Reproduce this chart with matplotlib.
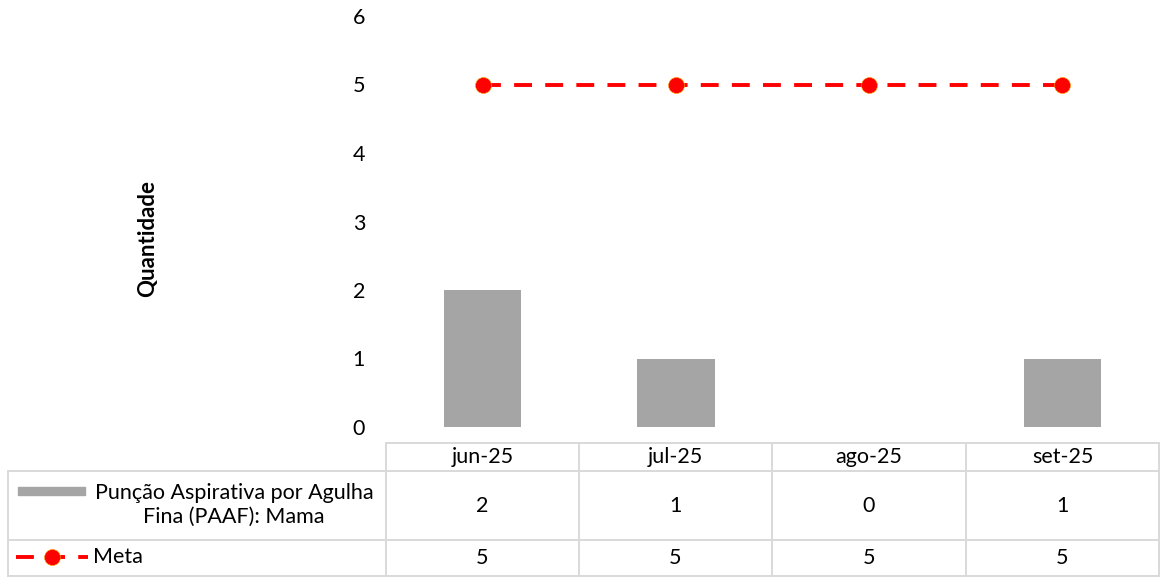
import matplotlib
matplotlib.use("Agg")
import matplotlib.pyplot as plt
from matplotlib.lines import Line2D
from matplotlib.patches import Rectangle

categories = ["jun-25", "jul-25", "ago-25", "set-25"]
paaf = [2, 1, 0, 1]
meta = [5, 5, 5, 5]
series_bar = "Punção Aspirativa por Agulha\nFina (PAAF): Mama"
series_line = "Meta"
y_ticks = [0, 1, 2, 3, 4, 5, 6]

plt.rcParams['font.family'] = ['Lato', 'DejaVu Sans']
FS = 15.5

W, H = 1160, 577
fig = plt.figure(figsize=(W / 100, H / 100), dpi=100)

def fx(px):
    return px / W

def fy(py):
    return 1 - py / H

x0, x1 = 386, 1159
y0, y1 = 427, 16
ax = fig.add_axes([fx(x0), fy(y0), fx(x1) - fx(x0), fy(y1) - fy(y0)])
x = list(range(len(categories)))
ax.bar(x, paaf, width=0.4, color="#A5A5A5", zorder=2)
LS = (0, (4.6, 3.4))
ax.plot(x, meta, color="#FF0000", lw=2.8, ls=LS, marker="o",
        markersize=11.5, markerfacecolor="#FF0000", markeredgecolor="#FFA500",
        markeredgewidth=0.4, zorder=3)
ax.set_xlim(-0.5, len(categories) - 0.5)
ax.set_ylim(0, 6)
ax.set_yticks(y_ticks)
ax.set_yticklabels([str(t) for t in y_ticks], fontsize=FS)
ax.tick_params(axis='y', length=0, pad=15)
ax.set_xticks([])
for s in ax.spines.values():
    s.set_visible(False)

fig.text(fx(148), fy(238), "Quantidade", rotation=90, ha="center", va="center",
         fontsize=16, fontweight="bold")

# data table
gc = "#D9D9D9"
lw = 1.4
col_edges = [386, 579, 772, 966, 1159]
row_top, row_h, row1, row2 = 443, 471, 540, 576

def hline(y, xa, xb):
    fig.add_artist(Line2D([fx(xa), fx(xb)], [fy(y), fy(y)], color=gc, lw=lw))

def vline(x_, ya, yb):
    fig.add_artist(Line2D([fx(x_), fx(x_)], [fy(ya), fy(yb)], color=gc, lw=lw))

hline(row_top, 386, 1159)
hline(row_h, 8, 1159)
hline(row1, 8, 1159)
hline(row2, 8, 1159)
for ce in col_edges:
    vline(ce, row_top, row2)
vline(8, row_h, row2)

for i, c in enumerate(categories):
    cx = (col_edges[i] + col_edges[i + 1]) / 2
    fig.text(fx(cx), fy((row_top + row_h) / 2), c, ha="center", va="center", fontsize=FS)
    fig.text(fx(cx), fy((row_h + row1) / 2), str(paaf[i]), ha="center", va="center", fontsize=FS)
    fig.text(fx(cx), fy((row1 + row2) / 2), str(meta[i]), ha="center", va="center", fontsize=FS)

# legend keys
fig.add_artist(Rectangle((fx(18), fy(495)), fx(85) - fx(18), fy(487) - fy(495),
                         color="#A5A5A5", transform=fig.transFigure))
fig.text(fx(234), fy(505), series_bar, ha="center", va="center", fontsize=FS,
         linespacing=1.2)
ly = fy(557)
fig.add_artist(Line2D([fx(16), fx(88)], [ly, ly], color="#FF0000", lw=2.8, ls=LS))
fig.add_artist(Line2D([fx(52)], [ly], color="#FF0000", marker="o", markersize=11.5,
                      markeredgecolor="#FFA500", markeredgewidth=0.4))
fig.text(fx(93), ly, series_line, ha="left", va="center", fontsize=FS)

fig.savefig("out.png", dpi=100)
